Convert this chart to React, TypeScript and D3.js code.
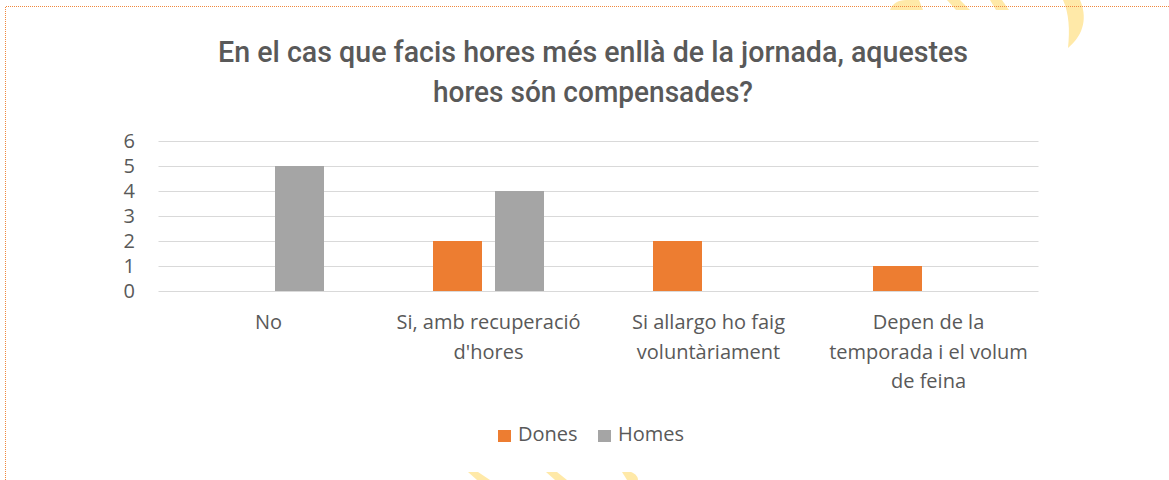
import React, {Component} from 'react'
import * as d3 from 'd3'

// chart data
const categories = ['No', "Si, amb recuperació d'hores", 'Si allargo ho faig voluntàriament', 'Depen de la temporada i el volum de feina']
const categoryLines = [['No'], ['Si, amb recuperació', "d'hores"], ['Si allargo ho faig', 'voluntàriament'], ['Depen de la', 'temporada i el volum', 'de feina']]
const series = ['Dones', 'Homes']
const dones = [0, 2, 2, 1]
const homes = [5, 4, 0, 0]
const yTicks = [0, 1, 2, 3, 4, 5, 6]
const titleLines = ['En el cas que facis hores més enllà de la jornada, aquestes', 'hores són compensades?']

const W = 1169
const H = 480
const plot = {left: 158.5, right: 1038.5, top: 141, bottom: 291}
const colors = ['#ED7D31', '#A5A5A5']
const textColor = '#595959'
const labelFont = '"Open Sans", sans-serif'

class App extends Component {
  svgRef = React.createRef<SVGSVGElement>()

  draw() {
    const svg = d3.select(this.svgRef.current)
    svg.selectAll('*').remove()

    // decorative yellow shapes behind the chart
    const deco = svg.append('g').attr('fill', '#FFE9A8')
    const shapes = [
      'M890,10 C892,4 898,0 906,0 L919,0 L923,10 Z',
      'M947,0 L960,0 L970,10 L956,10 Z',
      'M990,0 L1002,0 L1009,10 L996,10 Z',
      'M1063,0 L1080,0 C1087,16 1085,34 1068,48 C1070,30 1069,13 1063,0 Z',
      'M468,472 L478,472 L490,480 L477,480 Z',
      'M546,472 L557,472 L567,480 L555,480 Z',
      'M622,472 L631,472 C636,474 638,477 638,480 L627,480 Z'
    ]
    deco.selectAll('path').data(shapes).join('path').attr('d', d => d)

    // dotted frame
    svg.append('path')
      .attr('d', `M5.5,${H} L5.5,6.5 L${W},6.5`)
      .attr('fill', 'none')
      .attr('stroke', '#F0883E')
      .attr('stroke-dasharray', '1 1')

    // title
    const tl = [750, 320]
    svg.append('g').selectAll('text').data(titleLines).join('text')
      .attr('x', 593)
      .attr('y', (d, i) => 62.3 + i * 39.4)
      .attr('text-anchor', 'middle')
      .attr('textLength', (d, i) => tl[i])
      .attr('lengthAdjust', 'spacingAndGlyphs')
      .attr('font-family', 'Roboto, sans-serif')
      .attr('font-weight', 500)
      .attr('font-size', 30)
      .attr('fill', textColor)
      .text(d => d)

    const x = d3.scaleBand().domain(categories).range([plot.left, plot.right])
    const xInner = d3.scaleBand().domain(series).range([0, x.bandwidth()])
      .paddingInner(13 / 62).paddingOuter(0.879)
    const y = d3.scaleLinear().domain([0, 6]).range([plot.bottom, plot.top])

    // grid
    svg.append('g').selectAll('line').data(yTicks).join('line')
      .attr('x1', plot.left).attr('x2', plot.right)
      .attr('y1', d => Math.round(y(d)) + 0.5).attr('y2', d => Math.round(y(d)) + 0.5)
      .attr('stroke', '#D9D9D9')
      .attr('stroke-width', 1)

    // y labels
    svg.append('g').selectAll('text').data(yTicks).join('text')
      .attr('x', 135)
      .attr('y', d => y(d))
      .attr('dy', '0.36em')
      .attr('text-anchor', 'end')
      .attr('font-family', labelFont)
      .attr('font-size', 20)
      .attr('fill', textColor)
      .text(d => d)

    // bars
    const values = [dones, homes]
    series.forEach((s, si) => {
      svg.append('g').attr('fill', colors[si]).selectAll('rect')
        .data(categories.map((c, i) => ({c, v: values[si][i]})).filter(d => d.v > 0))
        .join('rect')
        .attr('x', d => x(d.c)! + xInner(s)!)
        .attr('y', d => y(d.v))
        .attr('width', xInner.bandwidth())
        .attr('height', d => y(0) - y(d.v))
    })

    // category labels
    const xl = svg.append('g').selectAll('text').data(categories).join('text')
      .attr('text-anchor', 'middle')
      .attr('font-family', labelFont)
      .attr('font-size', 20)
      .attr('fill', textColor)
    xl.selectAll('tspan').data((d, i) => categoryLines[i].map(t => ({t, c: d}))).join('tspan')
      .attr('x', d => x(d.c)! + x.bandwidth() / 2)
      .attr('y', (d, j) => 329 + j * 29.5)
      .text(d => d.t)

    // legend
    const legendX = [498, 598]
    const lg = svg.append('g').selectAll('g').data(series).join('g')
      .attr('transform', (d, i) => `translate(${legendX[i]},430)`)
    lg.append('rect').attr('width', 13).attr('height', 12).attr('fill', (d, i) => colors[i])
    lg.append('text')
      .attr('x', 20).attr('y', 11)
      .attr('font-family', labelFont)
      .attr('font-size', 20)
      .attr('fill', textColor)
      .text(d => d)
  }

  componentDidMount() {
    this.draw()
  }

  render() {
    return (
      <div style={{position: 'absolute', left: 0, top: 0}}>
        <svg ref={this.svgRef} width={W} height={H} style={{display: 'block', background: '#fff'}} />
      </div>
    )
  }
}

export default App
